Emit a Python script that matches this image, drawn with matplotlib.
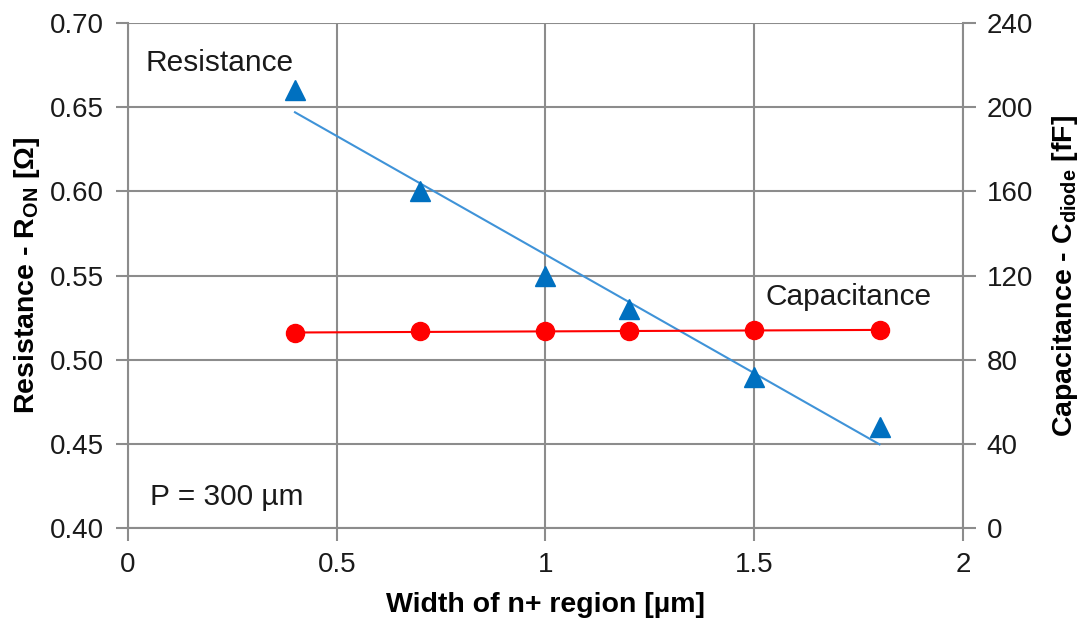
import matplotlib
matplotlib.use("Agg")
import matplotlib.pyplot as plt
import numpy as np

plt.rcParams["font.family"] = ["Liberation Sans", "DejaVu Sans"]
plt.rcParams["mathtext.fontset"] = "custom"
plt.rcParams["mathtext.rm"] = "Liberation Sans:bold"
plt.rcParams["mathtext.default"] = "rm"

# n+ region width sweep at P = 300 um
width_um = [0.4, 0.7, 1.0, 1.2, 1.5, 1.8]
r_on = [0.66, 0.60, 0.55, 0.53, 0.49, 0.46]
c_diode = [92.8, 93.4, 93.4, 93.4, 94.2, 94.0]

x_ticks = [0, 0.5, 1, 1.5, 2]
x_labels = ["0", "0.5", "1", "1.5", "2"]
r_ticks = [0.40, 0.45, 0.50, 0.55, 0.60, 0.65, 0.70]
c_ticks = [0, 40, 80, 120, 160, 200, 240]

BLUE, BLUE_LINE, RED = "#0070c0", "#3f93d8", "#ff0000"
GRID = "#8c8c8c"
TXT = "#1a1a1a"

fig = plt.figure(figsize=(10.79, 6.22), dpi=100)
ax = fig.add_axes([0.1186, 0.1511, 0.7739, 0.8119])
ax2 = ax.twinx()

x = np.array(width_um)
# linear trend lines over the measured range
kr = np.polyfit(x, r_on, 1)
kc = np.polyfit(x, c_diode, 1)
xx = np.array([x.min(), x.max()])

ax.plot(xx, np.polyval(kr, xx), color=BLUE_LINE, lw=1.5, zorder=3)
ax.plot(x, r_on, ls="none", marker="^", ms=15, color=BLUE, zorder=4)
ax2.plot(xx, np.polyval(kc, xx), color=RED, lw=1.5, zorder=3)
ax2.plot(x, c_diode, ls="none", marker="o", ms=13, color=RED, zorder=4)

ax.set_xlim(0, 2)
ax.set_ylim(0.40, 0.70)
ax2.set_ylim(0, 240)
ax.set_xticks(x_ticks, x_labels)
ax.set_yticks(r_ticks, [f"{v:.2f}" for v in r_ticks])
ax2.set_yticks(c_ticks, [str(v) for v in c_ticks])

ax.grid(True, color=GRID, lw=1.5)
ax.set_axisbelow(True)
for a in (ax, ax2):
    for side in a.spines:
        a.spines[side].set_visible(False)
    a.tick_params(length=9, width=1.5, color=GRID, labelsize=20, labelcolor=TXT, pad=8)
ax.spines["left"].set_visible(True)
ax.spines["left"].set_color(GRID)
ax.spines["left"].set_linewidth(1.5)
ax.spines["bottom"].set_visible(True)
ax.spines["bottom"].set_color(GRID)
ax.spines["bottom"].set_linewidth(1.5)
ax2.spines["right"].set_visible(True)
ax2.spines["right"].set_color(GRID)
ax2.spines["right"].set_linewidth(1.5)

ax.set_xlabel("Width of n+ region [µm]", fontsize=20.5, fontweight="bold", labelpad=10)
ax.set_ylabel(r"Resistance - R$_{ON}$ [Ω]", fontsize=20.5, fontweight="bold", labelpad=6)
ax2.set_ylabel(r"Capacitance - C$_{diode}$ [fF]", fontsize=20.5, fontweight="bold", labelpad=12)

ax.text(0.043, 0.676, "Resistance", fontsize=21.5, color=TXT, va="center")
ax2.text(1.526, 110, "Capacitance", fontsize=21.5, color=TXT, va="center")
ax.text(0.053, 0.4184, "P = 300 µm", fontsize=21.5, color=TXT, va="center")

fig.savefig("out.png", dpi=100)
